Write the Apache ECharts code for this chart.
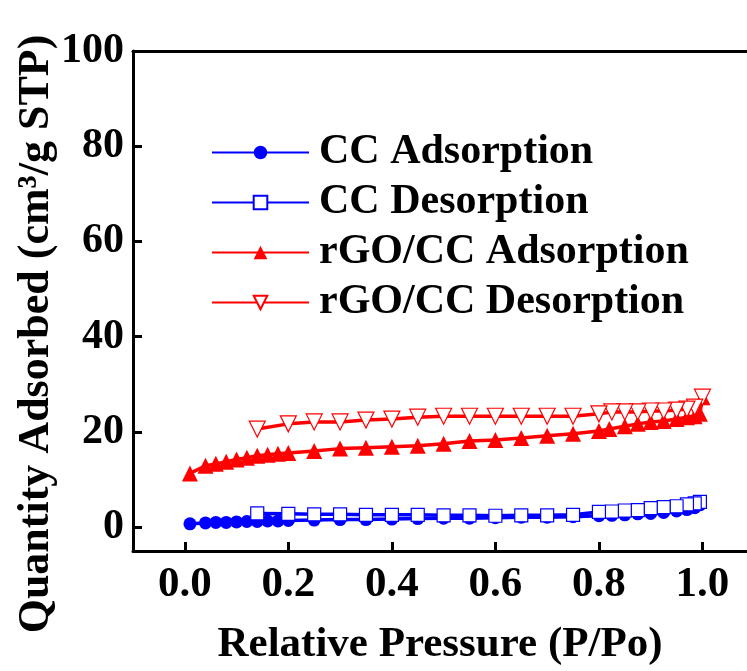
<!DOCTYPE html>
<html>
<head>
<meta charset="utf-8">
<script src="https://cdn.jsdelivr.net/npm/echarts@6/dist/echarts.min.js"></script>
<style>html,body{margin:0;padding:0;background:#fff}#c{width:747px;height:671px}</style>
</head>
<body>
<div id="c"></div>
<script>
const xTicks = [0, 0.2, 0.4, 0.6, 0.8, 1.0];
const yTicks = [0, 20, 40, 60, 80, 100];

const ccAdsP = [0.01,0.04,0.06,0.08,0.10,0.12,0.14,0.16,0.18,0.20,0.25,0.30,0.35,0.40,0.45,0.50,0.55,0.60,0.65,0.70,0.75,0.80,0.825,0.85,0.875,0.90,0.925,0.95,0.97,0.985,0.995];
const ccAdsV = [0.7,0.9,1.0,1.0,1.1,1.2,1.2,1.3,1.3,1.4,1.5,1.6,1.6,1.7,1.8,1.9,1.9,2.0,2.1,2.1,2.2,2.4,2.5,2.6,2.8,2.9,3.1,3.4,3.7,4.1,4.7];

const ccDesP = [0.995,0.985,0.97,0.95,0.925,0.90,0.875,0.85,0.825,0.80,0.75,0.70,0.65,0.60,0.55,0.50,0.45,0.40,0.35,0.30,0.25,0.20,0.14];
const ccDesV = [5.3,5.0,4.8,4.4,4.2,4.0,3.6,3.5,3.3,3.2,2.6,2.5,2.5,2.4,2.5,2.5,2.6,2.6,2.6,2.7,2.7,2.8,2.9];

const rgoAdsP = [0.01,0.04,0.06,0.08,0.10,0.12,0.14,0.16,0.18,0.20,0.25,0.30,0.35,0.40,0.45,0.50,0.55,0.60,0.65,0.70,0.75,0.80,0.82,0.85,0.875,0.90,0.925,0.95,0.97,0.985,0.995,1.0];
const rgoAdsV = [11.3,12.9,13.3,13.75,14.2,14.6,15.0,15.2,15.4,15.6,16.0,16.5,16.7,16.9,17.1,17.5,18.1,18.3,18.75,19.2,19.6,20.2,20.6,21.2,21.7,22.1,22.3,22.7,23.1,23.3,23.8,27.3];

const rgoDesP = [1.0,0.985,0.97,0.95,0.925,0.90,0.875,0.85,0.825,0.80,0.75,0.70,0.65,0.60,0.55,0.50,0.45,0.40,0.35,0.30,0.25,0.20,0.14];
const rgoDesV = [27.3,25.2,24.8,24.6,24.4,24.4,24.2,24.2,24.2,23.8,23.3,23.3,23.3,23.3,23.3,23.3,23.1,22.7,22.5,22.1,22.1,21.7,20.6];

const names = ['CC Adsorption','CC Desorption','rGO/CC Adsorption','rGO/CC Desorption'];
const xTitle = 'Relative Pressure (P/Po)';
const yTitle = 'Quantity Adsorbed (cm³/g STP)';

const zip = (a, b) => a.map((v, i) => [v, b[i]]);
const FONT = 'Liberation Serif, Times New Roman, serif';
const BLUE = '#0000ff', RED = '#ff0000';

const chart = echarts.init(document.getElementById('c'), null, {renderer: 'canvas'});
const axisLine = {show: true, onZero: false, lineStyle: {color: '#000', width: 3}};

chart.setOption({
  animation: false,
  backgroundColor: '#fff',
  grid: {left: 133, top: 51, right: 0, bottom: 118, containLabel: false},
  legend: {
    orient: 'vertical', left: 206, top: 126,
    itemWidth: 97, itemHeight: 17, itemGap: 7,
    textStyle: {fontFamily: FONT, fontWeight: 'bold', fontSize: 42, lineHeight: 43, color: '#000', padding: [0,0,0,5]},
    data: names
  },
  xAxis: [{
    type: 'value', min: -0.1, max: 1.086, position: 'bottom',
    axisLine: axisLine,
    axisTick: {show: true, inside: true, length: 9, lineStyle: {width: 3, color: '#000'}, customValues: xTicks},
    axisLabel: {customValues: xTicks, margin: 12, fontFamily: FONT, fontWeight: 'bold', fontSize: 43, color: '#000',
      formatter: v => v.toFixed(1)},
    splitLine: {show: false},
    name: xTitle, nameLocation: 'middle', nameGap: 72,
    nameTextStyle: {fontFamily: FONT, fontWeight: 'bold', fontSize: 43, color: '#000'}
  }, {
    type: 'value', min: -0.1, max: 1.086, position: 'top',
    axisLine: axisLine, axisTick: {show: false}, axisLabel: {show: false}, splitLine: {show: false}
  }],
  yAxis: {
    type: 'value', min: -5, max: 100,
    axisLine: axisLine,
    axisTick: {show: true, inside: true, length: 9, lineStyle: {width: 3, color: '#000'}, customValues: yTicks},
    axisLabel: {customValues: yTicks, margin: 9, fontFamily: FONT, fontWeight: 'bold', fontSize: 42, color: '#000'},
    splitLine: {show: false}
  },
  graphic: [{
    type: 'text', x: 37, y: 334, rotation: Math.PI / 2,
    style: {text: yTitle, align: 'center', verticalAlign: 'middle', fill: '#000',
      font: 'bold 44px ' + FONT}
  }],
  series: [
    {name: names[0], type: 'line', data: zip(ccAdsP, ccAdsV), symbol: 'circle', symbolSize: 13,
      lineStyle: {color: BLUE, width: 3.5}, itemStyle: {color: BLUE}},
    {name: names[1], type: 'line', data: zip(ccDesP, ccDesV), symbol: 'rect', symbolSize: 13,
      lineStyle: {color: BLUE, width: 3.5}, itemStyle: {color: '#fff', borderColor: BLUE, borderWidth: 1.2}},
    {name: names[2], type: 'line', data: zip(rgoAdsP, rgoAdsV), symbol: 'triangle', symbolSize: 16,
      lineStyle: {color: RED, width: 3.5}, itemStyle: {color: RED}},
    {name: names[3], type: 'line', data: zip(rgoDesP, rgoDesV), symbol: 'triangle', symbolRotate: 180, symbolSize: 16,
      lineStyle: {color: RED, width: 3.5}, itemStyle: {color: '#fff', borderColor: RED, borderWidth: 1.2}}
  ]
});
</script>
</body>
</html>
